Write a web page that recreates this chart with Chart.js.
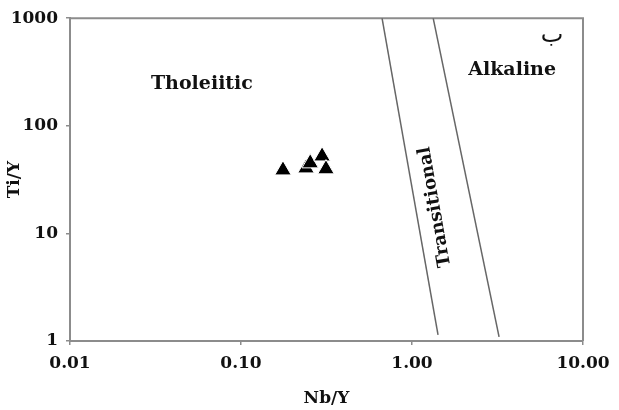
<!DOCTYPE html>
<html>
<head>
<meta charset="utf-8">
<script src="https://cdn.jsdelivr.net/npm/chart.js@4.4.1/dist/chart.umd.min.js"></script>
<style>
  html, body { margin: 0; padding: 0; background: #fff; }
  #wrap { width: 619px; height: 410px; }
</style>
</head>
<body>
<div id="wrap"><canvas id="chart"></canvas></div>
<script>
// Sample points (Nb/Y, Ti/Y)
const sampleNbY = [0.176, 0.240, 0.254, 0.298, 0.314];
const sampleTiY = [38.7, 40.4, 45.0, 52.2, 39.6];

// Field boundaries
const boundary1NbY = [0.668, 1.42];
const boundary1TiY = [1000, 1.14];
const boundary2NbY = [1.33, 3.23];
const boundary2TiY = [1000, 1.09];

// Axis ticks
const xTicks = [0.01, 0.1, 1, 10];
const yTicks = [1, 10, 100, 1000];

// Field names, placed in data units
const fieldNames = ['Tholeiitic', 'Alkaline', 'Transitional', 'ب'];
const fieldNbY = [0.0591, 3.85, 1.363, 6.59];
const fieldTiY = [246, 332, 17.6, 680];

const axisGray = '#8c8c8c';
const serif = "'DejaVu Serif', 'Liberation Serif', serif";

function toPoints(xs, ys) {
    return xs.map((x, i) => ({x: x, y: ys[i]}));
}

// frame round the plot + field labels
const decorPlugin = {
    id: 'decor',
    beforeDatasetsDraw(chart) {
        const {ctx, chartArea: a, scales} = chart;
        ctx.save();
        ctx.strokeStyle = axisGray;
        ctx.lineWidth = 2;
        ctx.beginPath();
        ctx.moveTo(a.left, a.top);
        ctx.lineTo(a.right, a.top);
        ctx.lineTo(a.right, a.bottom);
        ctx.stroke();

        ctx.fillStyle = '#111';
        ctx.textAlign = 'center';
        ctx.textBaseline = 'middle';
        fieldNames.forEach((name, i) => {
            const px = scales.x.getPixelForValue(fieldNbY[i]);
            const py = scales.y.getPixelForValue(fieldTiY[i]);
            ctx.save();
            ctx.translate(px, py);
            if (name === 'Transitional') {
                ctx.rotate(-100 * Math.PI / 180);
                ctx.font = 'bold 18px ' + serif;
            } else if (name === 'ب') {
                ctx.font = '24px "DejaVu Sans", sans-serif';
            } else {
                ctx.font = 'bold 19px ' + serif;
            }
            ctx.fillText(name, 0, 0);
            ctx.restore();
        });
        ctx.restore();
    }
};

const ctx = document.getElementById('chart').getContext('2d');

new Chart(ctx, {
    type: 'scatter',
    data: {
        datasets: [
            {
                label: 'boundary 1',
                type: 'line',
                data: toPoints(boundary1NbY, boundary1TiY),
                borderColor: '#666',
                borderWidth: 1.5,
                pointRadius: 0,
                fill: false
            },
            {
                label: 'boundary 2',
                type: 'line',
                data: toPoints(boundary2NbY, boundary2TiY),
                borderColor: '#666',
                borderWidth: 1.5,
                pointRadius: 0,
                fill: false
            },
            {
                label: 'samples',
                data: toPoints(sampleNbY, sampleTiY),
                pointStyle: 'triangle',
                pointRadius: 9.5,
                pointHoverRadius: 9.5,
                backgroundColor: '#000',
                borderColor: '#fff',
                borderWidth: 1
            }
        ]
    },
    options: {
        responsive: true,
        maintainAspectRatio: false,
        animation: false,
        layout: {
            padding: {left: 0, right: 36, top: 16, bottom: 0}
        },
        plugins: {
            legend: {display: false},
            tooltip: {enabled: false}
        },
        scales: {
            x: {
                type: 'logarithmic',
                min: 0.01,
                max: 10,
                afterBuildTicks: (scale) => { scale.ticks = xTicks.map(v => ({value: v})); },
                afterFit: (scale) => { scale.height = 69; },
                ticks: {
                    autoSkip: false,
                    maxRotation: 0,
                    padding: 8,
                    color: '#111',
                    font: {family: serif, size: 17, weight: 'bold'},
                    callback: (v) => Number(v).toFixed(2)
                },
                grid: {
                    display: true,
                    drawOnChartArea: false,
                    drawTicks: true,
                    tickLength: 4,
                    color: axisGray,
                    lineWidth: 1.5
                },
                border: {display: true, color: axisGray, width: 2},
                title: {
                    display: true,
                    text: 'Nb/Y',
                    color: '#111',
                    font: {family: serif, size: 17, weight: 'bold'},
                    padding: {top: 0, bottom: 1}
                }
            },
            y: {
                type: 'logarithmic',
                min: 1,
                max: 1000,
                afterBuildTicks: (scale) => { scale.ticks = yTicks.map(v => ({value: v})); },
                afterFit: (scale) => { scale.width = 70; },
                ticks: {
                    autoSkip: false,
                    padding: 8,
                    color: '#111',
                    font: {family: serif, size: 17, weight: 'bold'},
                    callback: (v) => String(v)
                },
                grid: {
                    display: true,
                    drawOnChartArea: false,
                    drawTicks: true,
                    tickLength: 4,
                    color: axisGray,
                    lineWidth: 1.5
                },
                border: {display: true, color: axisGray, width: 2},
                title: {
                    display: true,
                    text: 'Ti/Y',
                    color: '#111',
                    font: {family: serif, size: 17, weight: 'bold'},
                    padding: {top: 4, bottom: 0}
                }
            }
        }
    },
    plugins: [decorPlugin]
});
</script>
</body>
</html>
